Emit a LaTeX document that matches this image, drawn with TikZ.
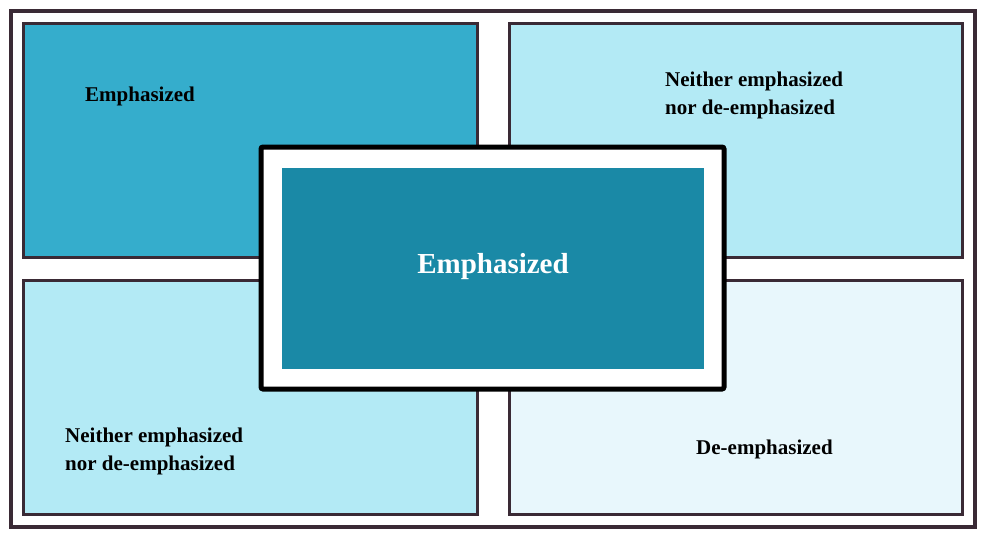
\documentclass[tikz,border=0pt]{standalone}
\usepackage{fontspec}
\setmainfont{Liberation Serif}
\usetikzlibrary{positioning}
\definecolor{frame}{HTML}{3A2A35}
\definecolor{strong}{HTML}{35ADCC}
\definecolor{middle}{HTML}{B3EAF5}
\definecolor{weak}{HTML}{E8F7FC}
\definecolor{core}{HTML}{1A89A6}
\tikzset{
  quad/.style={draw=frame, line width=3pt},
  lbl/.style={anchor=west, align=left, font=\fontsize{21}{28}\selectfont\bfseries, text=black, inner sep=0pt},
}
\begin{document}
\begin{tikzpicture}[x=1pt,y=-1pt]
  \useasboundingbox (0,0) rectangle (985,538);
  \draw[frame, line width=3.5pt] (11,11) rectangle (975,527);
  % quadrants
  \draw[quad, fill=strong] (23,23) rectangle (477,257);
  \draw[quad, fill=middle] (509,23) rectangle (962,257);
  \draw[quad, fill=middle] (23,280) rectangle (477,514);
  \draw[quad, fill=weak] (509,280) rectangle (962,514);
  \node[lbl] (tl) at (85,96) {Emphasized};
  \node[lbl] (tr) at (665,95) {Neither emphasized\\nor de-emphasized};
  \node[lbl] (bl) at (65,451) {Neither emphasized\\nor de-emphasized};
  \node[lbl] (br) at (696,449) {De-emphasized};
  % centre
  \draw[black, fill=white, line width=5pt, rounded corners=2pt] (261,147) rectangle (724,389);
  \fill[core] (282,168) rectangle (704,369);
  \node[font=\fontsize{29}{34}\selectfont\bfseries, text=white] (mid) at (493,267) {Emphasized};
\end{tikzpicture}
\end{document}
